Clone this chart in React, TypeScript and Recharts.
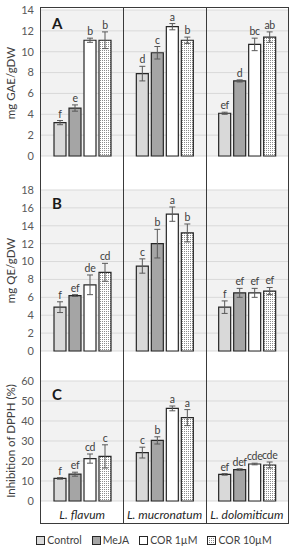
import React from "react";
import { Bar, BarChart, CartesianGrid, ErrorBar, LabelList, XAxis, YAxis } from "recharts";

const SPECIES = ["L. flavum", "L. mucronatum", "L. dolomiticum"];
const TREATMENTS = ["Control", "MeJA", "COR 1µM", "COR 10µM"];
const FILLS = ["#d9d9d9", "#a5a5a5", "#ffffff", "url(#dots)"];

// rows = treatment, columns = species
const GAE_MEAN = [[3.2, 7.9, 4.1], [4.6, 9.9, 7.2], [11.1, 12.4, 10.7], [11.1, 11.1, 11.4]];
const GAE_ERR = [[0.2, 0.7, 0.1], [0.3, 0.6, 0.1], [0.2, 0.3, 0.6], [0.8, 0.3, 0.5]];
const GAE_SIG = [["f", "d", "ef"], ["e", "c", "d"], ["b", "a", "bc"], ["b", "b", "ab"]];
const GAE_TICKS = [0, 2, 4, 6, 8, 10, 12, 14];

const QE_MEAN = [[4.9, 9.5, 4.9], [6.2, 12.0, 6.5], [7.4, 15.3, 6.5], [8.8, 13.2, 6.7]];
const QE_ERR = [[0.6, 0.8, 0.7], [0.1, 1.6, 0.5], [1.1, 0.8, 0.5], [1.0, 1.0, 0.4]];
const QE_SIG = [["f", "c", "f"], ["ef", "b", "ef"], ["de", "a", "ef"], ["cd", "b", "ef"]];
const QE_TICKS = [0, 2, 4, 6, 8, 10, 12, 14, 16, 18];

const DPPH_MEAN = [[11.3, 24.2, 13.3], [13.4, 30.3, 15.7], [21.2, 46.3, 18.5], [22.3, 41.7, 18.0]];
const DPPH_ERR = [[0.4, 2.7, 0.4], [1.0, 1.8, 0.4], [2.3, 1.2, 0.4], [5.8, 4.0, 1.5]];
const DPPH_SIG = [["f", "c", "ef"], ["ef", "b", "def"], ["cd", "a", "cde"], ["c", "a", "cde"]];
const DPPH_TICKS = [0, 10, 20, 30, 40, 50, 60];

const FONT = "Lato, 'Liberation Sans', sans-serif";
const W = 294;

type PanelProps = {
  mean: number[][];
  err: number[][];
  sig: string[][];
  ticks: number[];
  title: string;
  letter: string;
  top: number;
  marginTop: number;
  plotH: number;
  showX?: boolean;
};

function Panel({ mean, err, sig, ticks, title, letter, top, marginTop, plotH, showX }: PanelProps) {
  const rows = SPECIES.map((name, i) => {
    const r: any = { name };
    TREATMENTS.forEach((_, k) => {
      r[`m${k}`] = mean[k][i];
      r[`e${k}`] = err[k][i];
      r[`s${k}`] = sig[k][i];
    });
    return r;
  });

  // letter sits just above the error bar; bar px/unit comes from the bar itself
  const sigLabel = (k: number) => (p: any) => {
    const vb = p.viewBox ?? p;
    const row = rows[p.index];
    if (!row || !vb) return null;
    const h = Number(vb.height);
    const y = Number(vb.y);
    const errTop = y - (row[`e${k}`] * h) / row[`m${k}`];
    return (
      <text
        x={Number(vb.x) + Number(vb.width) / 2}
        y={errTop - 3}
        textAnchor="middle"
        fontSize={10.5}
        letterSpacing={-0.3}
        fontFamily={FONT}
        fill="#404040"
      >
        {row[`s${k}`]}
      </text>
    );
  };

  const xH = showX ? 23 : 0;
  const bottom = showX ? 0 : 8;
  const height = marginTop + plotH + xH + bottom;

  return (
    <div style={{ position: "absolute", left: 0, top, width: W, height }}>
      <BarChart
        width={W}
        height={height}
        data={rows}
        margin={{ top: marginTop, right: 6, bottom, left: 0 }}
        barSize={12}
        barGap={3}
      >
        <CartesianGrid vertical={false} fill="#f2f2f2" stroke="#d9d9d9" strokeWidth={1} />
        <XAxis
          dataKey="name"
          hide={!showX}
          height={xH || undefined}
          axisLine={false}
          tickLine={false}
          tickMargin={3}
          tick={{ fontSize: 12, fontStyle: "italic", fill: "#262626", fontFamily: FONT }}
        />
        <YAxis
          width={41}
          domain={[ticks[0], ticks[ticks.length - 1]]}
          ticks={ticks}
          interval={0}
          axisLine={false}
          tickLine={false}
          tickMargin={1}
          tick={{ fontSize: 11, fill: "#595959", fontFamily: FONT }}
          label={{
            value: title,
            angle: -90,
            position: "insideLeft",
            offset: 11,
            style: { textAnchor: "middle", fontSize: 11.5, fill: "#404040", fontFamily: FONT },
          }}
        />
        {TREATMENTS.map((t, k) => (
          <Bar
            key={t}
            name={t}
            dataKey={`m${k}`}
            fill={FILLS[k]}
            stroke="#262626"
            strokeWidth={1.2}
            isAnimationActive={false}
          >
            <ErrorBar dataKey={`e${k}`} width={3} stroke="#595959" strokeWidth={1} />
            <LabelList dataKey={`s${k}`} content={sigLabel(k)} />
          </Bar>
        ))}
      </BarChart>
      <div
        style={{
          position: "absolute",
          left: 52,
          top: marginTop + 4,
          fontFamily: FONT,
          fontWeight: 700,
          fontSize: 15,
          color: "#1a1a1a",
        }}
      >
        {letter}
      </div>
    </div>
  );
}

export default function App() {
  return (
    <div style={{ position: "absolute", left: 0, top: 0, width: W, height: 550, background: "#fff" }}>
      <svg width={0} height={0} style={{ position: "absolute" }}>
        <defs>
          <pattern id="dots" width={2} height={2} patternUnits="userSpaceOnUse">
            <rect width={2} height={2} fill="#ffffff" />
            <rect width={1} height={1} fill="#8c8c8c" />
          </pattern>
        </defs>
      </svg>
      <Panel mean={GAE_MEAN} err={GAE_ERR} sig={GAE_SIG} ticks={GAE_TICKS} title="mg GAE/gDW" letter="A" top={0} marginTop={10} plotH={146} />
      <Panel mean={QE_MEAN} err={QE_ERR} sig={QE_SIG} ticks={QE_TICKS} title="mg QE/gDW" letter="B" top={175} marginTop={15} plotH={161} />
      <Panel mean={DPPH_MEAN} err={DPPH_ERR} sig={DPPH_SIG} ticks={DPPH_TICKS} title="Inhibition of DPPH (%)" letter="C" top={365} marginTop={16} plotH={120} showX />
      {/* frame + species dividers */}
      <div
        style={{
          position: "absolute",
          left: 40,
          top: 7,
          width: 249,
          height: 517,
          boxSizing: "border-box",
          border: "1.5px solid #3a3a3a",
          display: "grid",
          gridTemplateColumns: "1fr 1fr 1fr",
          pointerEvents: "none",
        }}
      >
        {SPECIES.map((s, i) => (
          <div key={s} style={{ borderLeft: i ? "1.5px solid #3a3a3a" : "none" }} />
        ))}
      </div>
      <div
        style={{
          position: "absolute",
          left: 0,
          top: 534,
          width: W,
          paddingLeft: 14,
          boxSizing: "border-box",
          display: "flex",
          justifyContent: "center",
          gap: 10,
          fontFamily: FONT,
          fontSize: 10.5,
          color: "#404040",
        }}
      >
        {TREATMENTS.map((t, k) => (
          <div key={t} style={{ display: "flex", alignItems: "center", gap: 2 }}>
            <svg width={9} height={9}>
              <rect x={0.5} y={0.5} width={8} height={8} fill={FILLS[k]} stroke="#262626" strokeWidth={1} />
            </svg>
            <span>{t}</span>
          </div>
        ))}
      </div>
    </div>
  );
}
